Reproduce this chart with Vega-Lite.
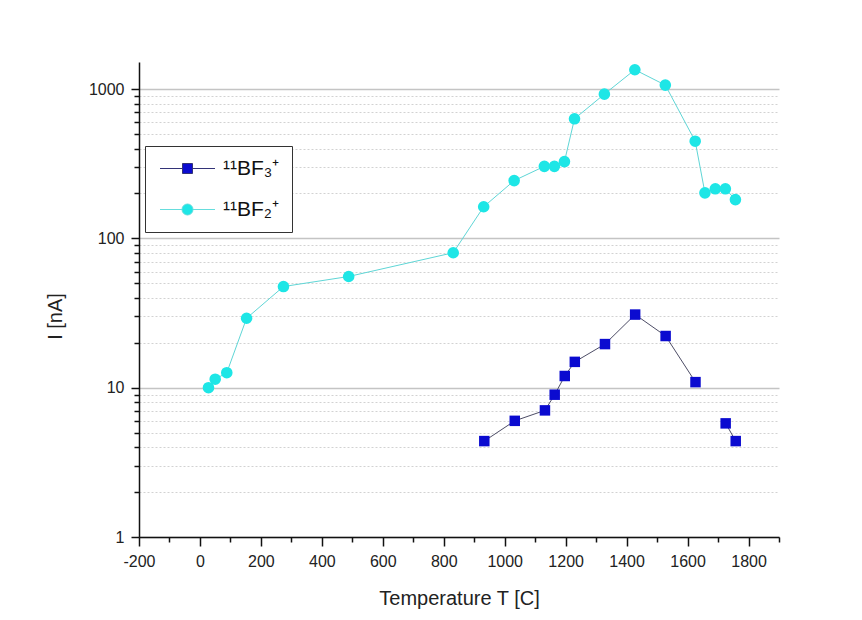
{
  "$schema": "https://vega.github.io/schema/vega-lite/v6.json",
  "width": 640,
  "height": 475,
  "autosize": "none",
  "padding": {"left": 139, "top": 62, "right": 83, "bottom": 83},
  "background": "white",
  "config": {"view": {"stroke": null}, "font": "Liberation Sans"},
  "data": {"values": [
    {"T": 28, "I": 10.0, "ion": "11BF2+", "seg": "a"},
    {"T": 50, "I": 11.4, "ion": "11BF2+", "seg": "a"},
    {"T": 88, "I": 12.6, "ion": "11BF2+", "seg": "a"},
    {"T": 153, "I": 29.2, "ion": "11BF2+", "seg": "a"},
    {"T": 274, "I": 47.6, "ion": "11BF2+", "seg": "a"},
    {"T": 488, "I": 55.6, "ion": "11BF2+", "seg": "a"},
    {"T": 831, "I": 80.2, "ion": "11BF2+", "seg": "a"},
    {"T": 931, "I": 163, "ion": "11BF2+", "seg": "a"},
    {"T": 1031, "I": 244, "ion": "11BF2+", "seg": "a"},
    {"T": 1130, "I": 304, "ion": "11BF2+", "seg": "a"},
    {"T": 1163, "I": 304, "ion": "11BF2+", "seg": "a"},
    {"T": 1196, "I": 327, "ion": "11BF2+", "seg": "a"},
    {"T": 1229, "I": 633, "ion": "11BF2+", "seg": "a"},
    {"T": 1327, "I": 926, "ion": "11BF2+", "seg": "a"},
    {"T": 1427, "I": 1349, "ion": "11BF2+", "seg": "a"},
    {"T": 1527, "I": 1064, "ion": "11BF2+", "seg": "a"},
    {"T": 1625, "I": 448, "ion": "11BF2+", "seg": "a"},
    {"T": 1657, "I": 202, "ion": "11BF2+", "seg": "a"},
    {"T": 1691, "I": 215, "ion": "11BF2+", "seg": "a"},
    {"T": 1724, "I": 215, "ion": "11BF2+", "seg": "a"},
    {"T": 1757, "I": 182, "ion": "11BF2+", "seg": "a"},
    {"T": 933, "I": 4.39, "ion": "11BF3+", "seg": "a"},
    {"T": 1033, "I": 6.0, "ion": "11BF3+", "seg": "a"},
    {"T": 1132, "I": 7.05, "ion": "11BF3+", "seg": "a"},
    {"T": 1164, "I": 8.98, "ion": "11BF3+", "seg": "a"},
    {"T": 1197, "I": 11.98, "ion": "11BF3+", "seg": "a"},
    {"T": 1230, "I": 14.9, "ion": "11BF3+", "seg": "a"},
    {"T": 1329, "I": 19.6, "ion": "11BF3+", "seg": "a"},
    {"T": 1428, "I": 30.9, "ion": "11BF3+", "seg": "a"},
    {"T": 1528, "I": 22.2, "ion": "11BF3+", "seg": "a"},
    {"T": 1626, "I": 10.9, "ion": "11BF3+", "seg": "a"},
    {"T": 1725, "I": 5.77, "ion": "11BF3+", "seg": "b"},
    {"T": 1758, "I": 4.39, "ion": "11BF3+", "seg": "b"}
  ]},
  "layer": [
    {
      "transform": [{"filter": "datum.ion == '11BF3+'"}],
      "mark": {"type": "line", "color": "#4d4d66", "strokeWidth": 1},
      "encoding": {
        "x": {"field": "T", "type": "quantitative",
          "scale": {"domain": [-200, 1900], "nice": false, "zero": false},
          "axis": {"orient": "bottom", "values": [-200, 0, 200, 400, 600, 800, 1000, 1200, 1400, 1600, 1800],
            "labelExpr": "'' + datum.value", "grid": false, "tickSize": 9, "tickWidth": 1.5, "tickColor": "#111",
            "domainColor": "#111", "domainWidth": 1.5, "labelFontSize": 16, "labelColor": "#222",
            "labelPadding": 7, "labelOverlap": false, "labelFlush": false,
            "title": "Temperature T [C]", "titleFontSize": 20, "titleFontWeight": "normal",
            "titleColor": "#222", "titlePadding": 19}},
        "y": {"field": "I", "type": "quantitative",
          "scale": {"type": "log", "domain": [1, 1520], "nice": false},
          "axis": {"orient": "left", "values": [1, 10, 100, 1000], "format": "d",
            "grid": true, "gridColor": "#c4c4c4", "gridWidth": 1.5,
            "tickSize": 8, "tickWidth": 1.5, "tickColor": "#111",
            "domainColor": "#111", "domainWidth": 1.5, "labelFontSize": 16, "labelColor": "#222",
            "labelPadding": 7, "labelOverlap": false, "labelFlush": false,
            "title": "I [nA]", "titleFontSize": 20, "titleFontWeight": "normal",
            "titleColor": "#222", "titlePadding": 23, "titleY": 254}},
        "detail": {"field": "seg"}
      }
    },
    {
      "transform": [{"filter": "datum.ion == '11BF2+'"}],
      "mark": {"type": "line", "color": "#5fd6d6", "strokeWidth": 1},
      "encoding": {
        "x": {"field": "T", "type": "quantitative", "axis": null},
        "y": {"field": "I", "type": "quantitative", "axis": null}
      }
    },
    {
      "transform": [{"filter": "datum.ion == '11BF3+'"}],
      "mark": {"type": "point", "filled": true, "opacity": 1, "size": 110, "shape": "square", "color": "#0b0bd0"},
      "encoding": {
        "x": {"field": "T", "type": "quantitative",
          "axis": {"orient": "bottom", "values": [-100, 100, 300, 500, 700, 900, 1100, 1300, 1500, 1700, 1900],
            "labels": false, "grid": false, "domain": false, "tickSize": 5, "tickWidth": 1.5,
            "tickColor": "#111", "title": null}},
        "y": {"field": "I", "type": "quantitative",
          "axis": {"orient": "left", "values": [2, 3, 4, 5, 6, 7, 8, 9, 20, 30, 40, 50, 60, 70, 80, 90, 200, 300, 400, 500, 600, 700, 800, 900],
            "labels": false, "domain": false, "tickSize": 5, "tickWidth": 1.5, "tickColor": "#111",
            "grid": true, "gridColor": "#d2d2d2", "gridWidth": 1, "gridDash": [2, 2], "title": null}}
      }
    },
    {
      "transform": [{"filter": "datum.ion == '11BF2+'"}],
      "mark": {"type": "point", "filled": true, "opacity": 1, "size": 135, "shape": "circle", "color": "#1ee6e6"},
      "encoding": {
        "x": {"field": "T", "type": "quantitative", "axis": null},
        "y": {"field": "I", "type": "quantitative", "axis": null}
      }
    },
    {
      "mark": {"type": "point", "filled": true, "opacity": 0, "strokeWidth": 1},
      "encoding": {
        "x": {"field": "T", "type": "quantitative", "axis": null},
        "y": {"field": "I", "type": "quantitative", "axis": null},
        "shape": {"field": "ion", "type": "nominal",
          "scale": {"domain": ["11BF3+", "11BF2+"], "range": ["M-2.75,0H-0.5M0.5,0H2.75M-0.5,-0.5H0.5V0.5H-0.5Z", "M-2.75,0H-0.55M0.55,0H2.75M-0.55,0A0.55,0.55,0,1,1,0.55,0A0.55,0.55,0,1,1,-0.55,0Z"]},
          "legend": null},
        "stroke": {"field": "ion", "type": "nominal",
          "scale": {"domain": ["11BF3+", "11BF2+"], "range": ["#333377", "#66dddd"]},
          "legend": null},
        "color": {"field": "ion", "type": "nominal",
          "scale": {"domain": ["11BF3+", "11BF2+"], "range": ["#0b0bd0", "#1ee6e6"]},
          "legend": {"orient": "none", "legendX": 6, "legendY": 84, "title": null,
            "labelExpr": "datum.value == '11BF3+' ? '¹¹BF₃⁺' : '¹¹BF₂⁺'",
            "labelFontSize": 21, "labelColor": "#111", "labelFont": "Liberation Sans",
            "symbolSize": 400, "symbolOpacity": 1, "symbolStrokeWidth": 1, "symbolOffset": 20, "labelOffset": 25,
            "strokeColor": "#333", "fillColor": "white", "padding": 12, "rowPadding": 19}}
      }
    }
  ],
  "resolve": {"axis": {"x": "independent", "y": "independent"}}
}
